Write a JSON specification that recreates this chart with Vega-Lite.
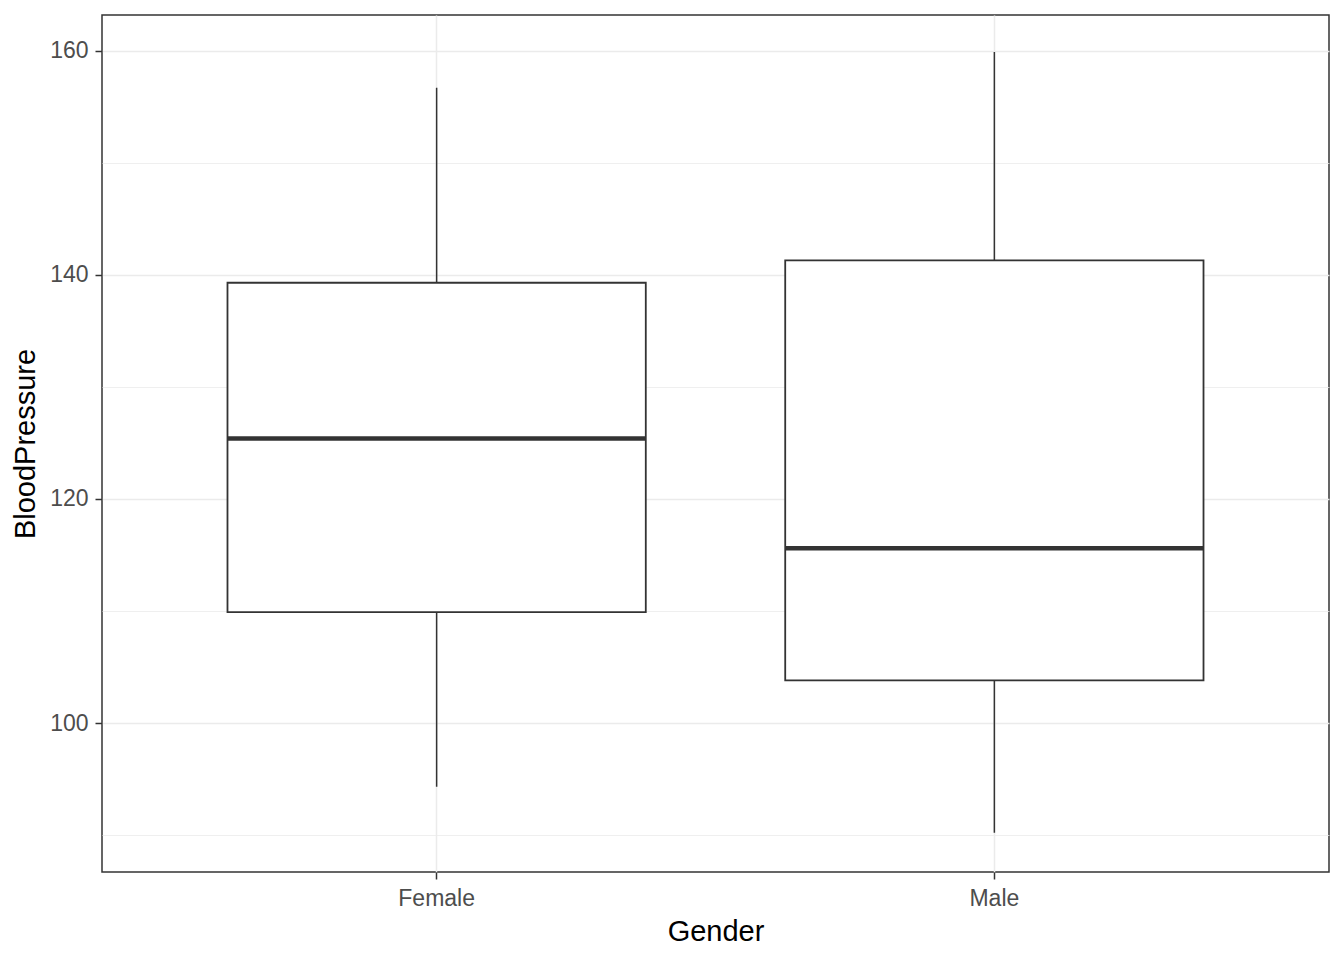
{
  "$schema": "https://vega.github.io/schema/vega-lite/v6.json",
  "width": 1227,
  "height": 857,
  "autosize": {"type": "none"},
  "padding": {"left": 102, "top": 15, "right": 15, "bottom": 88},
  "background": "white",
  "data": {"values": [
    {"Gender": "Female", "lower": 94.3, "q1": 109.9, "median": 125.4, "q3": 139.3, "upper": 156.7},
    {"Gender": "Male", "lower": 90.2, "q1": 103.8, "median": 115.6, "q3": 141.3, "upper": 159.9}
  ]},
  "config": {
    "font": "Liberation Sans",
    "view": {"stroke": "#333333", "strokeWidth": 1.5}
  },
  "encoding": {
    "x": {
      "field": "Gender",
      "type": "nominal",
      "scale": {"type": "band", "paddingInner": 0.25, "paddingOuter": 0.225},
      "axis": {
        "title": "Gender",
        "labelAngle": 0,
        "bandPosition": 0.5,
        "grid": true,
        "gridColor": "#EBEBEB",
        "gridWidth": 1.5,
        "domain": false,
        "labelFont": "Liberation Sans",
        "labelFontSize": 23,
        "labelColor": "#4D4D4D",
        "labelPadding": 8,
        "titleFont": "Liberation Sans",
        "titleFontSize": 29,
        "titleFontWeight": "normal",
        "titleColor": "#000000",
        "titlePadding": 7,
        "tickColor": "#333333",
        "tickWidth": 1.5,
        "tickSize": 7
      }
    }
  },
  "layer": [
    {
      "mark": {"type": "rule", "color": "#333333", "strokeWidth": 1.5},
      "encoding": {
        "y": {
          "field": "lower",
          "type": "quantitative",
          "scale": {"domain": [86.7, 163.2], "nice": false, "zero": false},
          "axis": {
            "title": "BloodPressure",
            "values": [90, 100, 110, 120, 130, 140, 150, 160],
            "labelExpr": "datum.value % 20 == 0 ? datum.label : ''",
            "tickOpacity": {"condition": {"test": "datum.value % 20 == 0", "value": 1}, "value": 0},
            "gridColor": "#EBEBEB",
            "gridWidth": {"condition": {"test": "datum.value % 20 == 0", "value": 1.5}, "value": 0.8},
            "domain": false,
            "labelFont": "Liberation Sans",
            "labelFontSize": 23,
            "labelColor": "#4D4D4D",
            "labelPadding": 7,
            "titleFont": "Liberation Sans",
            "titleFontSize": 29,
            "titleFontWeight": "normal",
            "titleColor": "#000000",
            "titlePadding": 9,
            "tickColor": "#333333",
            "tickWidth": 1.5,
            "tickSize": 7
          }
        },
        "y2": {"field": "upper"}
      }
    },
    {
      "mark": {"type": "bar", "fill": "white", "stroke": "#333333", "strokeWidth": 1.8},
      "encoding": {
        "y": {"field": "q1", "type": "quantitative"},
        "y2": {"field": "q3"}
      }
    },
    {
      "mark": {"type": "tick", "color": "#333333", "opacity": 1, "thickness": 4.5, "band": 1},
      "encoding": {
        "y": {"field": "median", "type": "quantitative"}
      }
    }
  ]
}
